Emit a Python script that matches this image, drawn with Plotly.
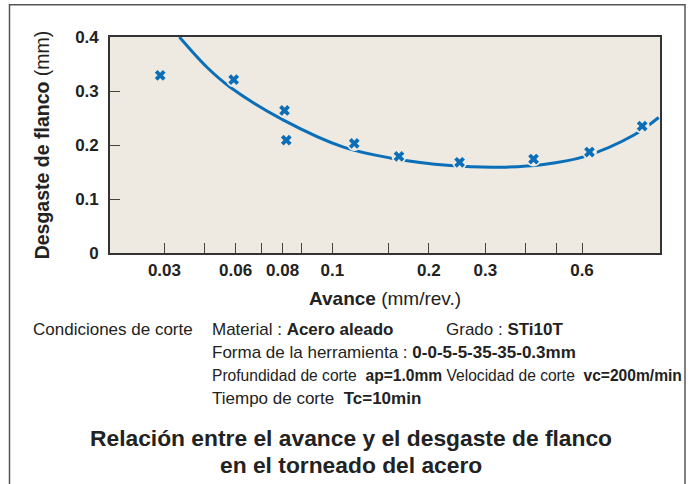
import plotly.graph_objects as go
import math

# ---- data ----
feed_pts = [0.0291, 0.0493, 0.0710, 0.0719, 0.1171, 0.1614, 0.2493, 0.4238, 0.633, 0.924]
wear_pts = [0.329, 0.321, 0.264, 0.209, 0.203, 0.179, 0.168, 0.174, 0.187, 0.235]

curve_feed = [0.0334, 0.0407, 0.0481, 0.0705, 0.1084, 0.1516, 0.2332, 0.333, 0.455, 0.606, 0.868, 1.04]
curve_wear = [0.400, 0.344, 0.307, 0.246, 0.196, 0.176, 0.162, 0.159, 0.164, 0.178, 0.218, 0.251]

x_label_vals = [0.03, 0.05, 0.07, 0.1, 0.2, 0.3, 0.6]
x_label_text = ["0.03", "0.06", "0.08", "0.1", "0.2", "0.3", "0.6"]
x_minor_vals = [0.04, 0.06, 0.08, 0.15, 0.4, 0.5]
y_tick_vals = [0, 0.1, 0.2, 0.3, 0.4]
y_tick_text = ["0", "0.1", "0.2", "0.3", "0.4"]

W, H = 694, 484
L, R, T, B = 110, 660, 36.7, 252.7
FONT = "Liberation Sans, Arial, Helvetica, sans-serif"
BLUE = "#0a6fb8"
BG = "#eeeae1"
TXT = "#222222"

def px(x):
    return (x - L) / (R - L)

def py(y):
    return (B - y) / (B - T)

fig = go.Figure()
fig.add_trace(go.Scatter(x=curve_feed, y=curve_wear, mode="lines",
                         line=dict(color=BLUE, width=3, shape="spline", smoothing=1.0),
                         hoverinfo="skip", showlegend=False))
# halo that breaks the curve around markers
fig.add_trace(go.Scatter(x=feed_pts, y=wear_pts, mode="markers",
                         marker=dict(symbol="circle", size=15, color=BG, line=dict(width=0)),
                         hoverinfo="skip", showlegend=False))
fig.add_trace(go.Scatter(x=feed_pts, y=wear_pts, mode="markers",
                         marker=dict(symbol="x", size=9.5, color=BLUE, line=dict(width=0)),
                         showlegend=False))

fig.update_xaxes(type="log", range=[math.log10(0.0203), math.log10(1.05)],
                 tickmode="array", tickvals=x_label_vals,
                 ticktext=["<b>%s</b>" % t for t in x_label_text],
                 ticks="inside", ticklen=10, tickwidth=1.2, tickcolor="#444",
                 minor=dict(tickmode="array", tickvals=x_minor_vals, ticks="inside",
                            ticklen=10, tickwidth=1.2, tickcolor="#444"),
                 tickfont=dict(family=FONT, size=17, color=TXT),
                 showgrid=False, zeroline=False, showline=True, mirror=True,
                 linecolor="#333", linewidth=1.6, ticklabelstandoff=1,
                 title=dict(text="<b>Avance</b> (mm/rev.)", font=dict(family=FONT, size=19, color=TXT),
                            standoff=12))
fig.update_yaxes(range=[0, 0.4], tickmode="array", tickvals=y_tick_vals,
                 ticktext=["<b>%s</b>" % t for t in y_tick_text],
                 ticks="inside", ticklen=10, tickwidth=1.2, tickcolor="#444",
                 tickfont=dict(family=FONT, size=17, color=TXT),
                 showgrid=False, zeroline=False, showline=True, mirror=True,
                 linecolor="#333", linewidth=1.6, ticklabelstandoff=6,
                 title=dict(text="<b>Desgaste de flanco</b> (mm)", font=dict(family=FONT, size=19.5, color=TXT),
                            standoff=20))

annos = []
def note(text, x, y, size=17, xanchor="left"):
    annos.append(dict(text=text, x=px(x), y=py(y), xref="paper", yref="paper",
                      xanchor=xanchor, yanchor="middle", showarrow=False,
                      font=dict(family=FONT, size=size, color=TXT)))

note("Condiciones de corte", 31, 329)
note("Material : <b>Acero aleado</b>", 210, 329)
note("Grado : <b>STi10T</b>", 444, 329)
note("Forma de la herramienta : <b>0-0-5-5-35-35-0.3mm</b>", 210, 352)
note("Profundidad de corte  <b>ap=1.0mm</b> Velocidad de corte  <b>vc=200m/min</b>", 210, 375, size=15.6)
note("Tiempo de corte  <b>Tc=10min</b>", 210, 398)
note("<b>Relación entre el avance y el desgaste de flanco</b>", 351, 438, size=22.8, xanchor="center")
note("<b>en el torneado del acero</b>", 351, 465, size=22.8, xanchor="center")

fig.add_shape(type="rect", xref="paper", yref="paper",
              x0=px(9.5), x1=px(685), y0=py(500), y1=py(4.5),
              line=dict(color="#555", width=1.5), fillcolor="rgba(0,0,0,0)", layer="below")

fig.update_layout(width=W, height=H, margin=dict(l=L, r=W - R, t=T, b=H - B),
                  paper_bgcolor="white", plot_bgcolor=BG, annotations=annos,
                  font=dict(family=FONT, color=TXT))

fig.write_html("out.html")
